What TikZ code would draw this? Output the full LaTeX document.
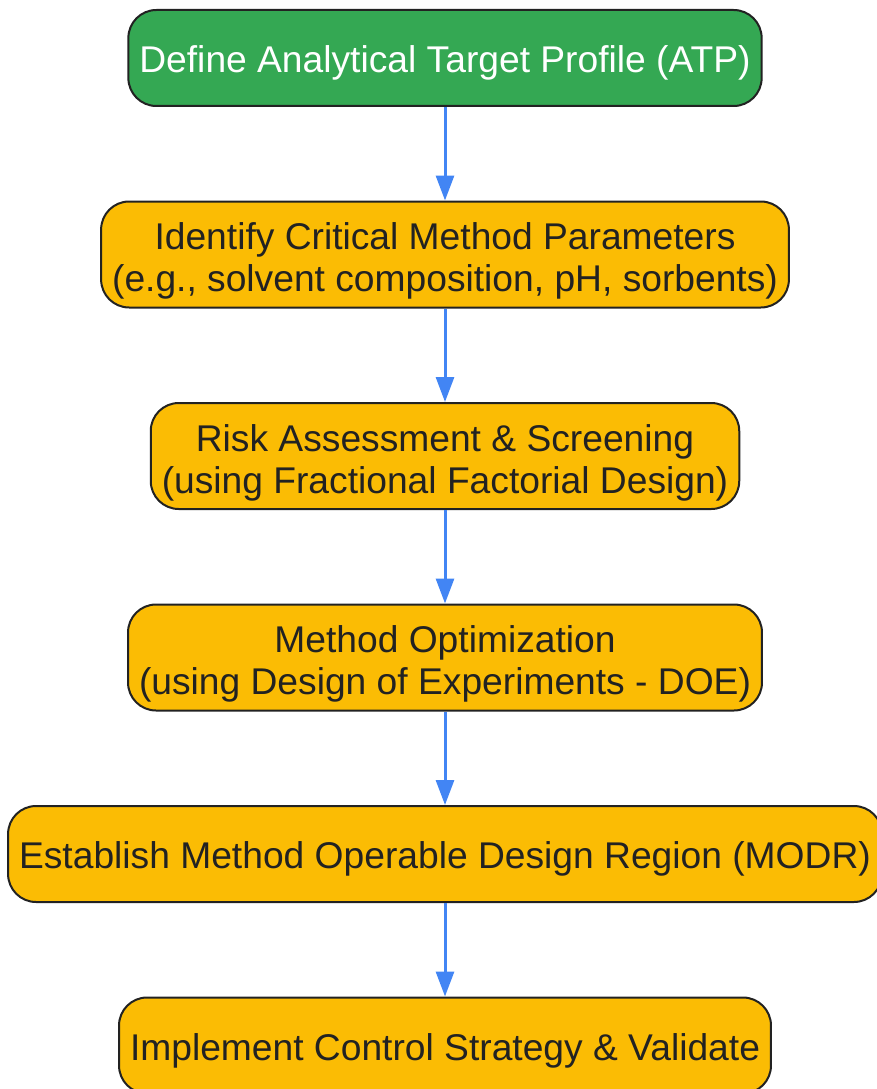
\documentclass[tikz,border=0pt]{standalone}
\usepackage{fontspec}
\setmainfont{Liberation Sans}
\usetikzlibrary{positioning, arrows.meta}
\definecolor{atpgreen}{HTML}{34A853}
\definecolor{stepyellow}{HTML}{FBBC04}
\definecolor{flowblue}{HTML}{4285F4}
\definecolor{boxline}{HTML}{222222}
\begin{document}
\begin{tikzpicture}[x=1pt, y=1pt, node distance=93.5pt,
		box/.style={draw=boxline, line width=2pt, rounded corners=28pt, minimum height=96pt,
			inner xsep=11pt, inner ysep=7.75pt, align=center, font=\fontsize{37.2}{42}\selectfont,
			text depth=8pt},
		oneline/.style={text height=37.8pt},
		twoline/.style={text height=82.5pt},
		grn/.style={fill=atpgreen, text=white},
		yel/.style={fill=stepyellow, text=boxline},
		flow/.style={-{Triangle[width=18pt, length=25pt]}, color=flowblue, line width=3pt}]
		\useasboundingbox (0,0) rectangle (876,-1089);

		\node[box, oneline, grn] (atp) at (445,-58) {Define Analytical Target Profile (ATP)};
		\node[box, twoline, yel, below=of atp] (cmp) {Identify Critical Method Parameters\\(e.g., solvent composition, pH, sorbents)};
		\node[box, twoline, yel, below=of cmp] (risk) {Risk Assessment \& Screening\\(using Fractional Factorial Design)};
		\node[box, twoline, yel, below=of risk] (opt) {Method Optimization\\(using Design of Experiments - DOE)};
		\node[box, oneline, yel, below=of opt] (modr) {Establish Method Operable Design Region (MODR)};
		\node[box, oneline, yel, below=of modr] (ctrl) {Implement Control Strategy \& Validate};

		\draw[flow] (atp) -- (cmp);
		\draw[flow] (cmp) -- (risk);
		\draw[flow] (risk) -- (opt);
		\draw[flow] (opt) -- (modr);
		\draw[flow] (modr) -- (ctrl);
	\end{tikzpicture}
\end{document}
